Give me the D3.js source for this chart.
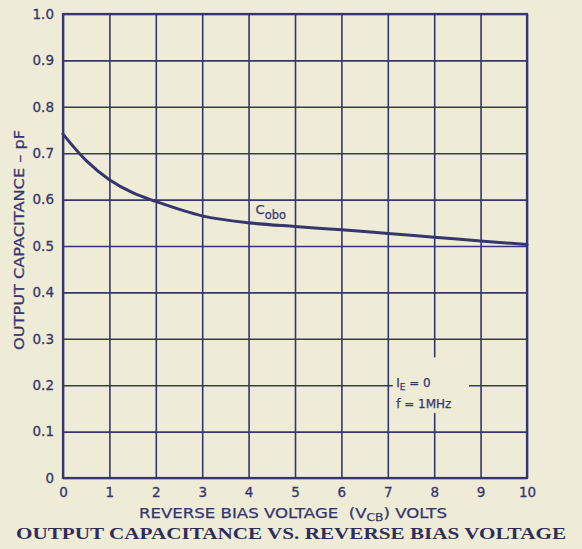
<!DOCTYPE html>
<html>
<head>
<meta charset="utf-8">
<script src="https://cdn.jsdelivr.net/npm/d3@7"></script>
<style>
  html, body { margin: 0; padding: 0; background: #eeecd7; }
  svg { display: block; }
</style>
</head>
<body>
<svg id="chart" width="582" height="549"></svg>
<script>
// data
const volts = [0, 0.5, 1, 1.5, 2, 3, 4, 5, 6, 7, 8, 9, 10];
const cobo  = [0.741, 0.684, 0.643, 0.615, 0.596, 0.565, 0.550, 0.542, 0.535, 0.527, 0.519, 0.511, 0.503];

const xTicks = [0, 1, 2, 3, 4, 5, 6, 7, 8, 9, 10];
const xTickLabels = ["0", "1", "2", "3", "4", "5", "6", "7", "8", "9", "10"];
const yTicks = [0, 0.1, 0.2, 0.3, 0.4, 0.5, 0.6, 0.7, 0.8, 0.9, 1.0];
const yTickLabels = ["0", "0.1", "0.2", "0.3", "0.4", "0.5", "0.6", "0.7", "0.8", "0.9", "1.0"];

const INK = "#36366e";
const PAPER = "#eeecd7";
const FONT = "'DejaVu Sans', 'Liberation Sans', sans-serif";

const svg = d3.select("#chart");
const margin = { top: 14, right: 55, bottom: 71, left: 63 };
const W = 582, H = 549;

const x = d3.scaleLinear().domain([0, 10]).range([margin.left, W - margin.right]);
const y = d3.scaleLinear().domain([0, 1]).range([H - margin.bottom, margin.top]);

svg.append("rect").attr("width", W).attr("height", H).attr("fill", PAPER);

// grid
const grid = svg.append("g");
grid.append("g")
  .attr("transform", `translate(0,${y(0)})`)
  .call(d3.axisBottom(x).tickValues(xTicks).tickSize(-(y(0) - y(1))).tickFormat(""))
  .call(g => g.select(".domain").remove())
  .selectAll("line").attr("stroke", INK).attr("stroke-width", 1.6);
grid.append("g")
  .attr("transform", `translate(${x(0)},0)`)
  .call(d3.axisLeft(y).tickValues(yTicks).tickSize(-(x(10) - x(0))).tickFormat(""))
  .call(g => g.select(".domain").remove())
  .selectAll("line").attr("stroke", INK).attr("stroke-width", 1.6);

// blank patch behind the conditions note
svg.append("rect")
  .attr("x", x(7) + 5).attr("y", y(0.26))
  .attr("width", x(8.75) - x(7) - 5).attr("height", y(0.14) - y(0.26))
  .attr("fill", PAPER);

// frame
svg.append("rect")
  .attr("x", x(0)).attr("y", y(1))
  .attr("width", x(10) - x(0)).attr("height", y(0) - y(1))
  .attr("fill", "none").attr("stroke", INK).attr("stroke-width", 2.2);

// tick labels
svg.append("g")
  .attr("transform", `translate(0,${y(0)})`)
  .call(d3.axisBottom(x).tickValues(xTicks).tickSize(0).tickPadding(9)
    .tickFormat((d, i) => xTickLabels[i]))
  .call(g => g.select(".domain").remove())
  .selectAll("text")
  .attr("fill", INK).attr("stroke", INK).attr("stroke-width", 0.3)
  .style("font-family", FONT).style("font-size", "13.5px");

svg.append("g")
  .attr("transform", `translate(${x(0)},0)`)
  .call(d3.axisLeft(y).tickValues(yTicks).tickSize(0).tickPadding(9)
    .tickFormat((d, i) => yTickLabels[i]))
  .call(g => g.select(".domain").remove())
  .selectAll("text")
  .attr("fill", INK).attr("stroke", INK).attr("stroke-width", 0.3)
  .style("font-family", FONT).style("font-size", "13.5px");

// curve
const line = d3.line()
  .x((d, i) => x(volts[i]))
  .y(d => y(d))
  .curve(d3.curveCatmullRom.alpha(0.5));

svg.append("path")
  .datum(cobo)
  .attr("d", line)
  .attr("fill", "none")
  .attr("stroke", INK)
  .attr("stroke-width", 3)
  .attr("stroke-linecap", "round");

// curve label
const lbl = svg.append("text")
  .attr("x", x(4.15)).attr("y", y(0.568))
  .attr("fill", INK).attr("stroke", INK).attr("stroke-width", 0.25)
  .style("font-family", FONT).style("font-size", "13px");
lbl.append("tspan").text("C");
lbl.append("tspan").attr("dy", 5).style("font-size", "11.5px").text("obo");

// conditions note
const n1 = svg.append("text")
  .attr("x", x(7.18)).attr("y", y(0.2) + 2)
  .attr("fill", INK).attr("stroke", INK).attr("stroke-width", 0.25)
  .style("font-family", FONT).style("font-size", "12px");
n1.append("tspan").text("I");
n1.append("tspan").attr("dy", 3).style("font-size", "9px").text("E");
n1.append("tspan").attr("dy", -3).text(" = 0");

svg.append("text")
  .attr("x", x(7.18)).attr("y", y(0.2) + 23)
  .attr("fill", INK).attr("stroke", INK).attr("stroke-width", 0.25)
  .style("font-family", FONT).style("font-size", "12px")
  .text("f = 1MHz");

// axis titles
const xt = svg.append("text")
  .attr("x", 139).attr("y", 518)
  .attr("textLength", 308).attr("lengthAdjust", "spacingAndGlyphs")
  .attr("fill", INK).attr("stroke", INK).attr("stroke-width", 0.25)
  .style("font-family", FONT).style("font-size", "13.5px");
xt.append("tspan").text("REVERSE BIAS VOLTAGE\u00a0\u00a0(V");
xt.append("tspan").attr("dy", 3).style("font-size", "10px").text("CB");
xt.append("tspan").attr("dy", -3).text(") VOLTS");

svg.append("text")
  .attr("transform", `translate(24,350) rotate(-90)`)
  .attr("textLength", 220).attr("lengthAdjust", "spacingAndGlyphs")
  .attr("fill", INK).attr("stroke", INK).attr("stroke-width", 0.25)
  .style("font-family", FONT).style("font-size", "13.5px")
  .text("OUTPUT CAPACITANCE \u2013 pF");

svg.append("text")
  .attr("x", 291).attr("y", 539)
  .attr("text-anchor", "middle")
  .attr("textLength", 550).attr("lengthAdjust", "spacingAndGlyphs")
  .attr("fill", "#2e2e5c")
  .style("font-family", "'Liberation Serif', 'DejaVu Serif', serif")
  .style("font-weight", "bold").style("font-size", "17px")
  .text("OUTPUT CAPACITANCE VS. REVERSE BIAS VOLTAGE");
</script>
</body>
</html>
